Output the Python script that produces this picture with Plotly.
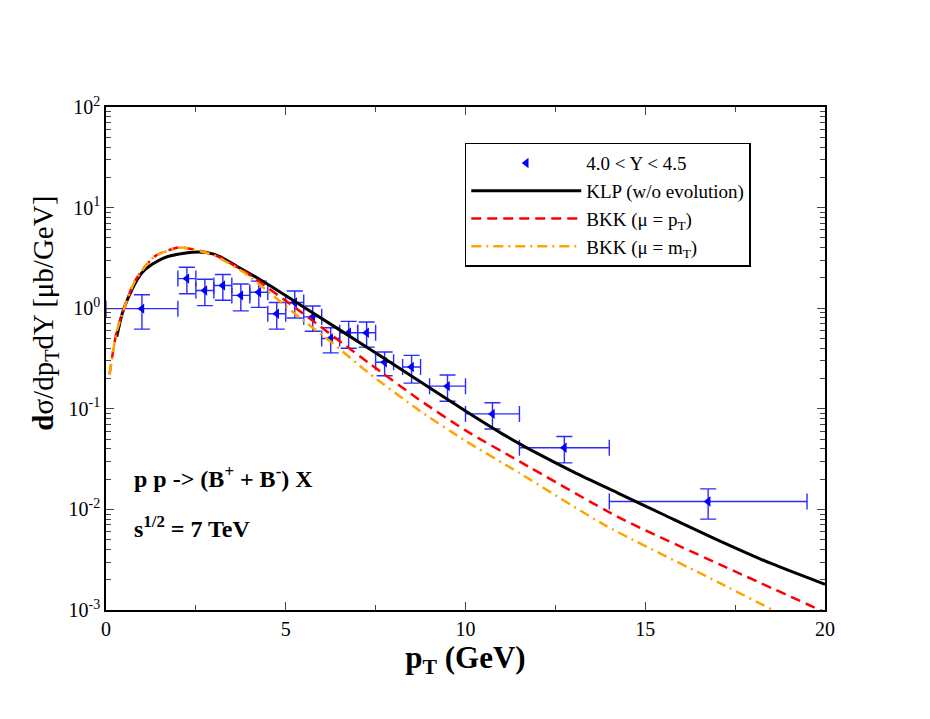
import plotly.graph_objects as go

# measured points, 4.0 < Y < 4.5
pt = [1.0, 2.25, 2.75, 3.25, 3.75, 4.25, 4.75, 5.25, 5.75, 6.25, 6.75, 7.25, 7.75,
      8.5, 9.5, 10.75, 12.75, 16.75]
pt_err = [1.0, 0.25, 0.25, 0.25, 0.25, 0.25, 0.25, 0.25, 0.25, 0.25, 0.25, 0.25, 0.25,
          0.25, 0.5, 0.75, 1.25, 2.75]
xsec = [0.99, 1.97, 1.50, 1.68, 1.34, 1.44, 0.88, 1.14, 0.82, 0.50, 0.57, 0.57, 0.29,
        0.26, 0.168, 0.089, 0.041, 0.012]
xsec_err = [0.37, 0.58, 0.44, 0.48, 0.40, 0.42, 0.26, 0.34, 0.23, 0.14, 0.17, 0.16, 0.077,
            0.08, 0.049, 0.026, 0.012, 0.004]

# KLP (w/o evolution)
klp_pt = [0.3, 0.5, 1.0, 1.6, 2.4, 3.0, 3.65, 4.44, 5.55, 7.3, 8.7, 10.0, 11.0, 12.0,
          13.0, 14.3, 15.5, 17.05, 18.5, 20.0]
klp_y = [0.52, 1.0, 2.25, 3.15, 3.6, 3.45, 2.6, 1.78, 1.0, 0.40, 0.19, 0.095, 0.057,
         0.036, 0.0236, 0.0142, 0.0089, 0.0049, 0.0029, 0.0018]

# BKK (mu = pT)
bkk_pt = [0.1, 0.3, 0.8, 1.35, 2.05, 3.0, 3.85, 5.4, 7.3, 8.7, 10.0, 11.5, 14.3, 17.05, 20.0]
bkk_y = [0.22, 0.59, 1.85, 3.27, 4.02, 3.4, 2.32, 0.93, 0.287, 0.124, 0.061, 0.030,
         0.0082, 0.00286, 0.00095]

# BKK (mu = mT)
bkkm_pt = [0.1, 0.3, 0.8, 1.35, 2.1, 3.0, 3.85, 5.4, 6.3, 7.3, 8.7, 10.0, 11.5, 13.9,
           17.05, 18.55]
bkkm_y = [0.22, 0.59, 1.85, 3.27, 4.02, 3.35, 2.25, 0.80, 0.45, 0.228, 0.097, 0.048,
          0.023, 0.0069, 0.00187, 0.001]

y_exp = [-3, -2, -1, 0, 1, 2]
minor_vals = [k * 10.0 ** e for e in range(-3, 2) for k in range(2, 10)]

serif = "Liberation Serif"

fig = go.Figure()

fig.add_trace(go.Scatter(
    x=pt, y=xsec, mode="markers", name="4.0 < Y < 4.5",
    marker=dict(symbol="triangle-left", size=9, color="#0000ff"),
    error_x=dict(type="data", array=pt_err, color="#2b2bff", thickness=1.4, width=8),
    error_y=dict(type="data", array=xsec_err, color="#2b2bff", thickness=1.4, width=8),
))
fig.add_trace(go.Scatter(
    x=klp_pt, y=klp_y, mode="lines", name="KLP (w/o evolution)",
    line=dict(color="black", width=3, shape="spline", smoothing=0.8),
))
fig.add_trace(go.Scatter(
    x=bkk_pt, y=bkk_y, mode="lines", name="BKK (μ = p<sub>T</sub>)",
    line=dict(color="#ff0000", width=2.5, dash="10px,6px", shape="spline", smoothing=0.6),
))
fig.add_trace(go.Scatter(
    x=bkkm_pt, y=bkkm_y, mode="lines", name="BKK (μ = m<sub>T</sub>)",
    line=dict(color="#ffa500", width=2.5, dash="10px,5px,2px,5px", shape="spline", smoothing=0.6),
))

fig.add_annotation(x=0.036, y=0.23, xref="paper", yref="paper", xanchor="left",
                   showarrow=False, text="<b>p p -> (B<sup>+</sup> + B<sup>-</sup>) X</b>",
                   font=dict(family=serif, size=24, color="black"))
fig.add_annotation(x=0.036, y=0.131, xref="paper", yref="paper", xanchor="left",
                   showarrow=False, text="<b>s<sup>1/2</sup> = 7 TeV</b>",
                   font=dict(family=serif, size=24, color="black"))
# y title, placed above centre as in the original
fig.add_annotation(x=-0.112, y=0.59, xref="paper", yref="paper", textangle=-90,
                   showarrow=False, text="<b>d</b>σ/dp<sub>T</sub>dY [μb/GeV]",
                   font=dict(family=serif, size=29, color="black"))

fig.update_layout(
    width=930, height=719,
    margin=dict(l=98, r=113, t=99, b=117),
    paper_bgcolor="white", plot_bgcolor="white",
    font=dict(family=serif, color="black"),
    showlegend=True,
    legend=dict(x=0.499, y=0.929, xanchor="left", yanchor="top",
                bordercolor="black", borderwidth=1.5, bgcolor="white",
                font=dict(family=serif, size=19), itemwidth=110, tracegroupgap=0),
)
fig.update_xaxes(
    range=[0, 20], dtick=5, ticks="inside", ticklen=8, tickwidth=1.2,
    showline=True, linecolor="black", linewidth=1.5, mirror="ticks",
    showgrid=False, zeroline=False,
    tickfont=dict(family=serif, size=20),
    minor=dict(dtick=2.5, ticks="inside", ticklen=5, tickwidth=1.2, showgrid=False),
    title=dict(text="<b>p<sub>T</sub> (GeV)</b>", font=dict(family=serif, size=31), standoff=6),
)
fig.update_yaxes(
    type="log", range=[-3, 2],
    tickvals=[10.0 ** e for e in y_exp],
    ticktext=["10<sup>%d</sup>" % e for e in y_exp],
    ticks="inside", ticklen=8, tickwidth=1.2,
    showline=True, linecolor="black", linewidth=1.5, mirror="ticks",
    showgrid=False, zeroline=False,
    tickfont=dict(family=serif, size=20),
    minor=dict(tickvals=minor_vals, ticks="inside", ticklen=5, tickwidth=1.2, showgrid=False),
)

fig.write_html("out.html")
